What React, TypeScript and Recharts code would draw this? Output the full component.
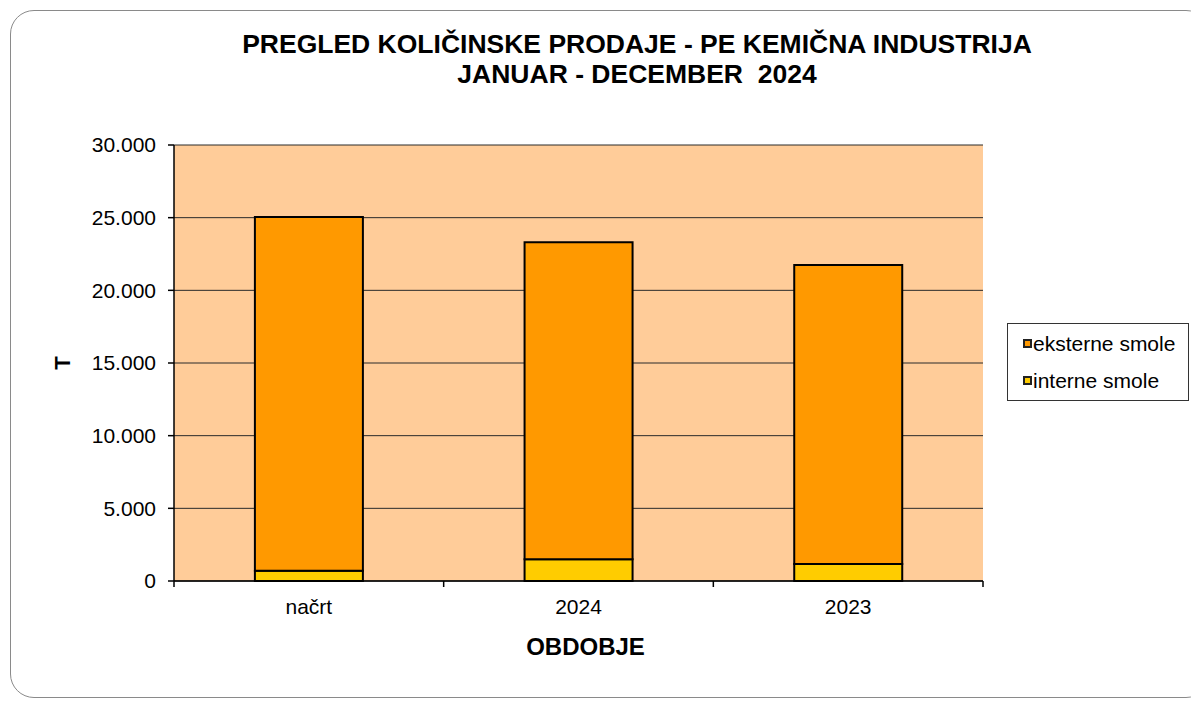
import React from 'react';
import { BarChart, Bar, XAxis, YAxis, CartesianGrid, Legend } from 'recharts';

const categories = ['načrt', '2024', '2023'];
const interneSmole = [700, 1500, 1170];
const eksterneSmole = [24350, 21800, 20580];
const yTicks = [0, 5000, 10000, 15000, 20000, 25000, 30000];

const data = categories.map((c, i) => ({
  name: c,
  interne: interneSmole[i],
  eksterne: eksterneSmole[i],
}));

const W = 1191;
const H = 702;
const LEGEND_W = 182;
const M = { top: 145, right: 208 - LEGEND_W, bottom: 71, left: 74 };
const Y_AXIS_W = 100;
const X_AXIS_H = 50;
const PLOT_W = W - M.left - Y_AXIS_W - 208;
const FONT = '"Liberation Sans", Arial, sans-serif';

const fmt = (v: number) =>
  v === 0 ? '0' : v.toString().replace(/\B(?=(\d{3})+(?!\d))/g, '.');

const XTick = (props: any) => {
  const { x, y, payload, index } = props;
  const band = PLOT_W / categories.length;
  return (
    <g>
      <line x1={x - band / 2} x2={x - band / 2} y1={y} y2={y + 6} stroke="#000" strokeWidth={1.5} />
      {index === categories.length - 1 && (
        <line x1={x + band / 2} x2={x + band / 2} y1={y} y2={y + 6} stroke="#000" strokeWidth={1.5} />
      )}
      <text x={x} y={y + 33} textAnchor="middle" fontSize={21} fill="#000" fontFamily={FONT}>
        {payload.value}
      </text>
    </g>
  );
};

const LegendContent = () => (
  <div
    style={{
      border: '1.5px solid #333',
      background: '#fff',
      width: LEGEND_W,
      height: 78,
      boxSizing: 'border-box',
      padding: '1px 0 0 15px',
      fontFamily: FONT,
      fontSize: 21,
      color: '#000',
      textAlign: 'left',
    }}
  >
    {[
      { label: 'eksterne smole', color: '#FF9900' },
      { label: 'interne smole', color: '#FFCC00' },
    ].map((it) => (
      <div key={it.label} style={{ display: 'flex', alignItems: 'center', height: 37 }}>
        <span
          style={{
            display: 'inline-block',
            width: 5,
            height: 5,
            background: it.color,
            border: '2px solid #222',
            marginRight: 1,
          }}
        />
        <span>{it.label}</span>
      </div>
    ))}
  </div>
);

export default function App() {
  return (
    <div style={{ position: 'absolute', left: 0, top: 0, width: W, height: H, background: '#fff', overflow: 'hidden' }}>
      <div
        style={{
          position: 'absolute',
          left: 10,
          top: 10,
          width: 1200,
          height: 688,
          border: '1.5px solid #8a8a8a',
          borderRadius: 24,
          boxSizing: 'border-box',
        }}
      />
      <div
        style={{
          position: 'absolute',
          left: 137,
          width: 1000,
          top: 29,
          textAlign: 'center',
          fontFamily: FONT,
          fontWeight: 'bold',
          fontSize: 26.5,
          lineHeight: '30px',
          color: '#000',
        }}
      >
        <div>PREGLED KOLIČINSKE PRODAJE - PE KEMIČNA INDUSTRIJA</div>
        <div style={{ whiteSpace: 'pre' }}>JANUAR - DECEMBER  2024</div>
      </div>
      <div style={{ position: 'absolute', left: 0, top: 0 }}>
        <BarChart width={W} height={H} data={data} margin={M} barCategoryGap="30%">
          <CartesianGrid vertical={false} fill="#FFCC99" stroke="#2a2a2a" strokeWidth={1} />
          <XAxis
            dataKey="name"
            height={X_AXIS_H}
            tickLine={false}
            tickSize={0}
            tickMargin={0}
            axisLine={{ stroke: '#000', strokeWidth: 1.5 }}
            tick={<XTick />}
            interval={0}
            label={{
              value: 'OBDOBJE',
              position: 'insideBottom',
              offset: -24,
              dx: 7,
              style: { fontFamily: FONT, fontWeight: 'bold', fontSize: 24, fill: '#000' },
            }}
          />
          <YAxis
            width={Y_AXIS_W}
            domain={[0, 30000]}
            ticks={yTicks}
            tickFormatter={fmt}
            interval={0}
            tickSize={6}
            tickMargin={12}
            tickLine={{ stroke: '#000', strokeWidth: 1.5 }}
            axisLine={{ stroke: '#000', strokeWidth: 1.5 }}
            tick={{ fontFamily: FONT, fontSize: 21, fill: '#000' }}
            label={{
              value: 'T',
              angle: -90,
              position: 'insideLeft',
              offset: -12,
              style: { fontFamily: FONT, fontWeight: 'bold', fontSize: 22, fill: '#000', textAnchor: 'middle' },
            }}
          />
          <YAxis
            yAxisId="right"
            orientation="right"
            width={0}
            tick={false}
            tickLine={false}
            axisLine={{ stroke: '#808080', strokeWidth: 1.5 }}
          />
          <Legend
            layout="vertical"
            align="right"
            verticalAlign="top"
            content={<LegendContent />}
            wrapperStyle={{ position: 'absolute', left: 1007, top: 323, width: LEGEND_W }}
          />
          <Bar dataKey="interne" stackId="a" fill="#FFCC00" stroke="#000" strokeWidth={2} isAnimationActive={false} name="interne smole" />
          <Bar dataKey="eksterne" stackId="a" fill="#FF9900" stroke="#000" strokeWidth={2} isAnimationActive={false} name="eksterne smole" />
        </BarChart>
      </div>
    </div>
  );
}
